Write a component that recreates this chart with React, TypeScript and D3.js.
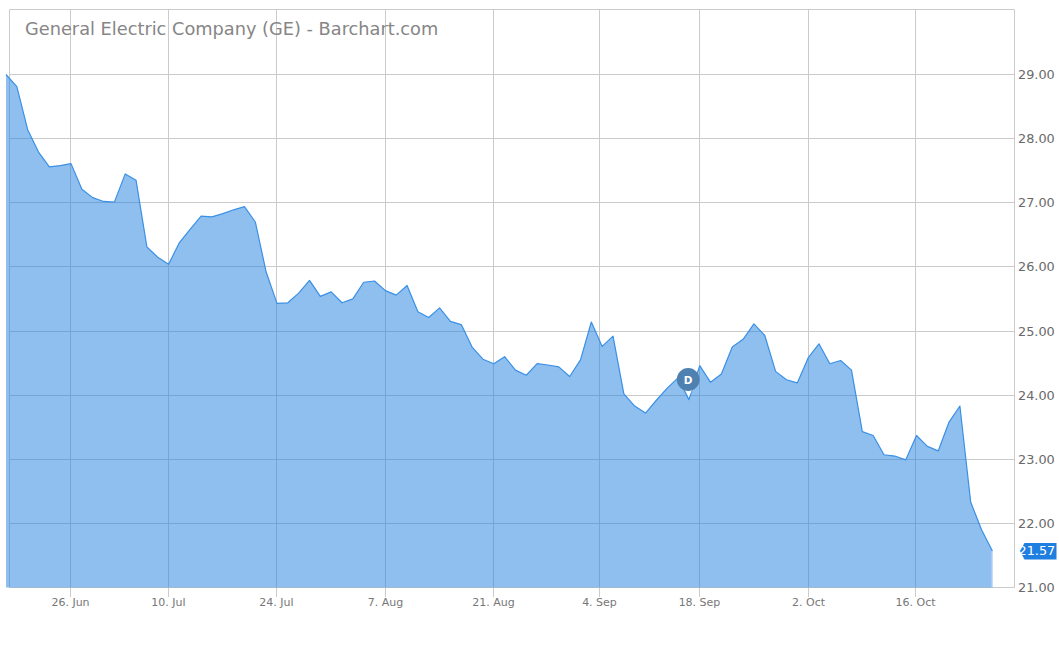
import React from "react";
import * as d3 from "d3";

const closes = [
  29.0, 28.81, 28.14, 27.79, 27.56, 27.58, 27.61, 27.21, 27.08, 27.02, 27.01, 27.45, 27.35,
  26.31, 26.15, 26.04, 26.38, 26.59, 26.79, 26.78, 26.83, 26.89, 26.94, 26.7, 25.92, 25.43,
  25.44, 25.59, 25.79, 25.54, 25.61, 25.44, 25.5, 25.76, 25.78, 25.63, 25.56, 25.71, 25.3,
  25.21, 25.36, 25.15, 25.1, 24.75, 24.56, 24.49, 24.6, 24.39, 24.31, 24.49, 24.47, 24.44,
  24.29, 24.55, 25.14, 24.76, 24.92, 24.02, 23.83, 23.72, 23.92, 24.11, 24.27, 23.93, 24.46,
  24.2, 24.33, 24.75, 24.87, 25.11, 24.93, 24.37, 24.24, 24.19, 24.58, 24.8, 24.49, 24.54,
  24.39, 23.43, 23.37, 23.07, 23.05, 22.99, 23.37, 23.2, 23.13, 23.58, 23.83, 22.33, 21.9,
  21.57,
];
const xTickLabels = ["26. Jun", "10. Jul", "24. Jul", "7. Aug", "21. Aug", "4. Sep", "18. Sep", "2. Oct", "16. Oct"];
const xTickSessions = [6, 15, 25, 35, 45, 54.8, 64, 74, 83.95];
const yTicks = [21, 22, 23, 24, 25, 26, 27, 28, 29];
const title = "General Electric Company (GE) - Barchart.com";
const dividendSession = 63;
const lastPrice = 21.57;

const W = 1059;
const H = 650;
const left = 9.5;
const right = 1014.5;
const top = 9.5;
const bottom = 587.5;
const axisColor = "#cbcbcb";
const blue = "#1f7fe0";

export default function App() {
  const x = d3.scaleLinear().domain([0, closes.length - 1]).range([6, 992.4]);
  const y = d3.scaleLinear().domain([21, 29]).range([587.5, 74.5]);
  const lineGen = d3.line<number>().x((_, i) => x(i)).y((d) => y(d));
  const areaGen = d3
    .area<number>()
    .x((_, i) => x(i))
    .y0(bottom)
    .y1((d) => y(d));
  const fx = x(dividendSession) - 0.7;
  const fy = 379.5;
  const ly = y(lastPrice);
  const tickX = (s: number) => Math.round(x(s) - 0.6) + 0.5;
  return (
    <svg
      width={W}
      height={H}
      viewBox={`0 0 ${W} ${H}`}
      style={{ position: "absolute", left: 0, top: 0, display: "block", fontFamily: "'DejaVu Sans', sans-serif" }}
    >
      <rect width={W} height={H} fill="#fff" />
      <path d={`M${left},${bottom}V${top}H${right}V${bottom}Z`} fill="none" stroke={axisColor} strokeWidth={1} />
      {yTicks.map((t) => {
        const py = Math.floor(y(t)) + 0.5;
        return <line key={t} x1={left} x2={right} y1={py} y2={py} stroke={axisColor} />;
      })}
      {xTickSessions.map((s, i) => (
        <line key={i} x1={tickX(s)} x2={tickX(s)} y1={top} y2={597} stroke={axisColor} />
      ))}
      <path d={areaGen(closes) ?? ""} fill={blue} fillOpacity={0.5} />
      <line x1={992} x2={992} y1={y(lastPrice)} y2={bottom} stroke="#b8d6f6" strokeWidth={1} />
      <path d={lineGen(closes) ?? ""} fill="none" stroke="#3a90e5" strokeWidth={1.2} strokeLinejoin="round" />
      <text x={25} y={35} fontSize={17.75} fill="#868686">
        {title}
      </text>
      {yTicks.map((t) => (
        <text key={t} x={1018} y={y(t) + 4.5} fontSize={12.85} fill="#6a6a6a">
          {t.toFixed(2)}
        </text>
      ))}
      {xTickLabels.map((l, i) => (
        <text key={l} x={tickX(xTickSessions[i])} y={606} fontSize={11} fill="#777777" textAnchor="middle">
          {l}
        </text>
      ))}
      <path d={`M${fx - 3},${fy + 10}L${fx + 0.7},${fy + 17}L${fx + 4},${fy + 10}Z`} fill="#fff" />
      <circle cx={fx} cy={fy} r={11.4} fill="#4f81b0" />
      <text x={fx} y={fy + 4} fontSize={10.5} fontWeight="bold" fill="#fff" textAnchor="middle">
        D
      </text>
      <path d={`M1020,${ly}L1024.5,${ly - 8}H1056.5V${ly + 8.5}H1024.5Z`} fill={blue} />
      <text x={1018.5} y={ly + 4.5} fontSize={12.85} fill="#fff">
        {lastPrice.toFixed(2)}
      </text>
    </svg>
  );
}
